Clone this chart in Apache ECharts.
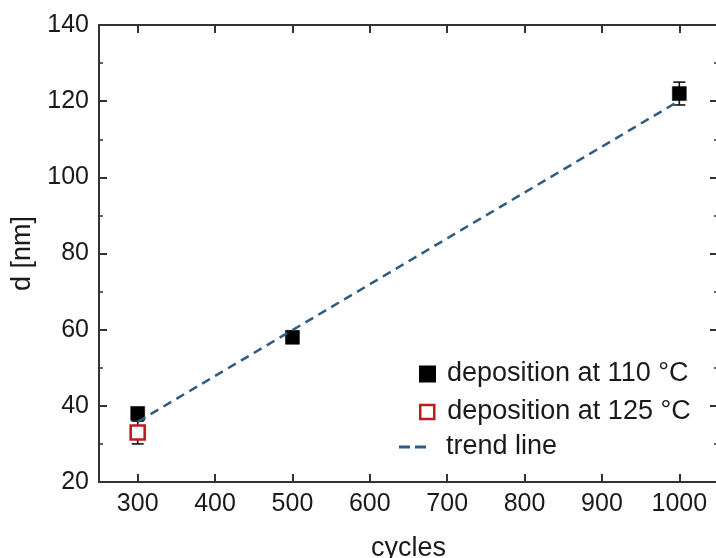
<!DOCTYPE html>
<html>
<head>
<meta charset="utf-8">
<script src="https://cdn.jsdelivr.net/npm/echarts@6/dist/echarts.min.js"></script>
<style>
html,body{margin:0;padding:0;background:#fff;}
#c{width:716px;height:558px;}
</style>
</head>
<body>
<div id="c"></div>
<script>
const cycles110 = [300, 500, 1000];
const d110 = [38, 58, 122];
const err110 = [1, 1, 3];
const cycles125 = [300];
const d125 = [33];
const err125 = [3];
const trendCycles = [300, 1000];
const trendD = [35.8, 120.1];
const xTicks = [300, 400, 500, 600, 700, 800, 900, 1000];
const names = ['deposition at 110 °C', 'deposition at 125 °C', 'trend line'];

const FONT = "Liberation Sans";
const AX = '#333';
const TXT = '#1a1a1a';
const TREND = '#2d5b82';
const RED = '#c0191e';

function zip(xs, ys, es) { return xs.map((x, i) => es ? [x, ys[i], es[i]] : [x, ys[i]]); }

function errRender(params, api) {
  const x = api.value(0), y = api.value(1), e = api.value(2);
  const t = api.coord([x, y + e]);
  const b = api.coord([x, y - e]);
  const hw = 6;
  const st = { stroke: '#111', lineWidth: 1.6 };
  return { type: 'group', children: [
    { type: 'line', shape: { x1: t[0], y1: t[1], x2: b[0], y2: b[1] }, style: st },
    { type: 'line', shape: { x1: t[0] - hw, y1: t[1], x2: t[0] + hw, y2: t[1] }, style: st },
    { type: 'line', shape: { x1: b[0] - hw, y1: b[1], x2: b[0] + hw, y2: b[1] }, style: st }
  ]};
}

const xCommon = {
  type: 'value', min: 250, max: 1050, interval: 100,
  axisLine: { show: true, onZero: false, lineStyle: { color: AX, width: 2 } },
  axisTick: { show: true, inside: true, length: 8, lineStyle: { color: AX, width: 2 },
    customValues: xTicks },
  minorTick: { show: true, splitNumber: 2, length: 4, lineStyle: { color: AX, width: 1.5 } },
  splitLine: { show: false }
};
const yCommon = {
  type: 'value', min: 20, max: 140, interval: 20,
  axisLine: { show: true, onZero: false, lineStyle: { color: AX, width: 2 } },
  axisTick: { show: true, inside: true, length: 8, lineStyle: { color: AX, width: 2 } },
  minorTick: { show: true, splitNumber: 2, length: 4, lineStyle: { color: AX, width: 1.5 } },
  splitLine: { show: false }
};

const dashIcon = 'path://M0,0h11v3h-11z M16,0h11v3h-11z';

const chart = echarts.init(document.getElementById('c'), null, { renderer: 'canvas' });
chart.setOption({
  animation: false,
  backgroundColor: '#fff',
  textStyle: { fontFamily: FONT },
  grid: { left: 99, top: 25, right: -2, bottom: 76, containLabel: false, outerBoundsMode: 'none' },
  xAxis: [
    Object.assign({}, xCommon, {
      position: 'bottom',
      name: 'cycles', nameLocation: 'middle', nameGap: 53,
      nameTextStyle: { fontSize: 27, color: TXT, fontFamily: FONT },
      axisLabel: { show: true, margin: 10, fontSize: 25, color: TXT, fontFamily: FONT,
        customValues: xTicks, formatter: v => String(v) }
    }),
    Object.assign({}, xCommon, { position: 'top', axisLabel: { show: false } })
  ],
  yAxis: [
    Object.assign({}, yCommon, {
      position: 'left',
      name: 'd [nm]', nameLocation: 'middle', nameGap: 62,
      nameTextStyle: { fontSize: 27, color: TXT, fontFamily: FONT },
      axisLabel: { show: true, margin: 10, fontSize: 25, color: TXT, fontFamily: FONT }
    }),
    Object.assign({}, yCommon, { position: 'right', axisLabel: { show: false } })
  ],
  legend: [
    { data: [{ name: names[0], icon: 'rect' }], left: 419, top: 359, orient: 'vertical', padding: 0,
      itemWidth: 15, itemHeight: 15, selectedMode: false,
      textStyle: { fontSize: 27, color: TXT, fontFamily: FONT, lineHeight: 30, padding: [0, 0, 0, 7] } },
    { data: [{ name: names[1], icon: 'rect', itemStyle: { color: '#fff', borderColor: RED, borderWidth: 2.5 } }],
      left: 419, top: 397, orient: 'vertical', padding: 0,
      itemWidth: 14, itemHeight: 14, selectedMode: false,
      textStyle: { fontSize: 27, color: TXT, fontFamily: FONT, lineHeight: 30, padding: [0, 0, 0, 8] } },
    { data: [{ name: names[2], icon: dashIcon, itemStyle: { color: TREND, borderWidth: 0 } }],
      left: 399, top: 432, orient: 'vertical', padding: 0,
      itemWidth: 27, itemHeight: 3, selectedMode: false,
      textStyle: { fontSize: 27, color: TXT, fontFamily: FONT, lineHeight: 30, padding: [0, 0, 0, 15] } }
  ],
  series: [
    { type: 'custom', name: 'err110', renderItem: errRender, data: zip(cycles110, d110, err110),
      encode: { x: 0, y: [1, 2] }, z: 2, silent: true },
    { type: 'custom', name: 'err125', renderItem: errRender, data: zip(cycles125, d125, err125),
      encode: { x: 0, y: [1, 2] }, z: 2, silent: true },
    { type: 'scatter', name: names[0], data: zip(cycles110, d110), symbol: 'rect', symbolSize: 14,
      itemStyle: { color: '#000', borderColor: '#000', borderWidth: 0.5, opacity: 1 }, z: 3 },
    { type: 'scatter', name: names[1], data: zip(cycles125, d125), symbol: 'rect', symbolSize: 14,
      itemStyle: { color: '#fff', borderColor: RED, borderWidth: 2.6, opacity: 1 }, z: 3 },
    { type: 'line', name: names[2], data: zip(trendCycles, trendD), symbol: 'none',
      lineStyle: { color: TREND, width: 2.5, type: [9, 6] }, itemStyle: { color: TREND }, z: 4 }
  ]
});
</script>
</body>
</html>
